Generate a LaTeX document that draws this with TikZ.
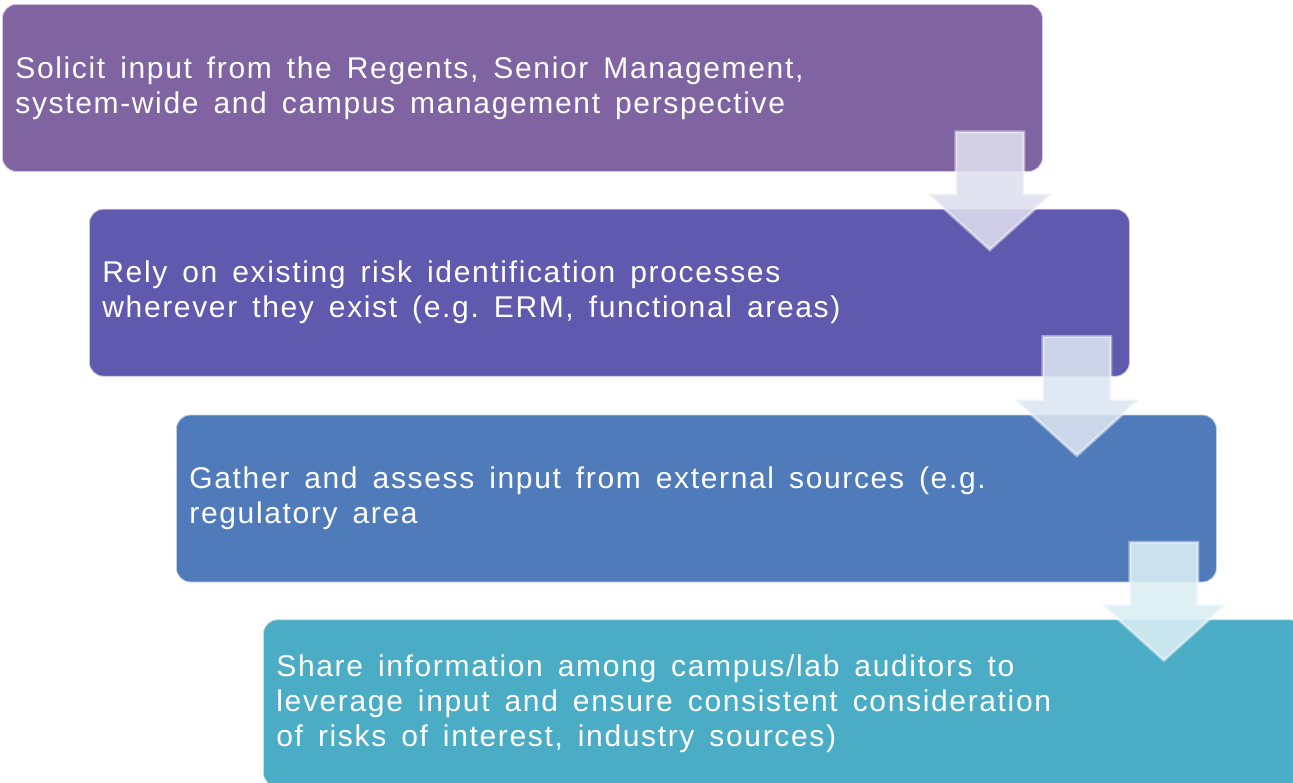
\documentclass[tikz,border=0pt]{standalone}
\usepackage{fontspec}
\setmainfont{Liberation Sans}
\newfontfamily\stagefont[LetterSpace=5.5]{Liberation Sans}
\usetikzlibrary{positioning,calc}
\definecolor{cSolicit}{HTML}{8064A2}
\definecolor{cRely}{HTML}{5F5AAD}
\definecolor{cGather}{HTML}{507BBB}
\definecolor{cShare}{HTML}{4BACC6}
\tikzset{
  stage/.style={fill=#1, draw=white!65!#1, line width=0.8pt, rounded corners=14pt,
                anchor=north west, inner xsep=13pt, inner ysep=0pt,
                text width=1014pt, minimum height=167pt, align=left,
                text=white, font=\stagefont\fontsize{30}{35}\selectfont,
                execute at begin node={\spaceskip=15pt\relax}},
  flow/.style={fill=#1!20!white, fill opacity=0.88, draw=white, draw opacity=0.45,
               line width=3pt, line join=miter},
}
% block arrow from the lower right of one stage into the next
\newcommand{\stagearrow}[3]{%
  \path[flow=#3] let \p1=($(#1.south east)+(-53,40)$), \p2=($(#2.north)+(0,-41)$) in
    (\x1-34pt,\y1) -- (\x1+34pt,\y1) -- (\x1+34pt,\y2+56pt) -- (\x1+62pt,\y2+56pt)
    -- (\x1,\y2) -- (\x1-62pt,\y2+56pt) -- (\x1-34pt,\y2+56pt) -- cycle;}

\begin{document}
\begin{tikzpicture}[x=1pt, y=1pt]
  \useasboundingbox (0,0) rectangle (1293,-782);
  % the four stages, stepping down to the right
  \node[stage=cSolicit] (solicit) at (2,-4)
    {Solicit input from the Regents, Senior Management,\\
     system-wide and campus management perspective};
  \node[stage=cRely] (rely) at ($(solicit.south west)+(87,-37)$)
    {Rely on existing risk identification processes\\
     wherever they exist (e.g. ERM, functional areas)};
  \node[stage=cGather] (gather) at ($(rely.south west)+(87,-38)$)
    {Gather and assess input from external sources (e.g.\\
     regulatory area};
  \node[stage=cShare] (share) at ($(gather.south west)+(87,-37)$)
    {Share information among campus/lab auditors to\\
     leverage input and ensure consistent consideration\\
     of risks of interest, industry sources)};
  % arrows between the stages
  \stagearrow{solicit}{rely}{cRely}
  \stagearrow{rely}{gather}{cGather}
  \stagearrow{gather}{share}{cShare}
\end{tikzpicture}
\end{document}
